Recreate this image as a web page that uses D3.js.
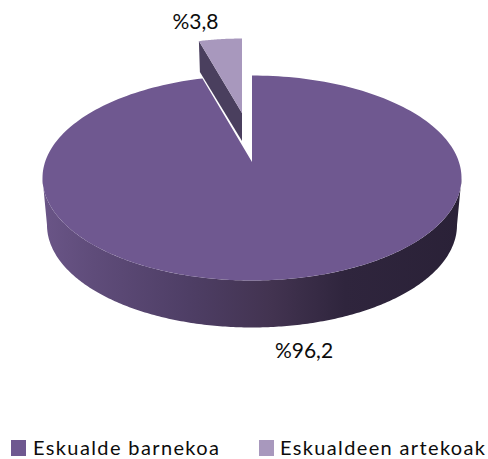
<!DOCTYPE html>
<html><head><meta charset="utf-8">
<script src="https://cdn.jsdelivr.net/npm/d3@7"></script>
<style>html,body{margin:0;padding:0;background:#fff}svg{display:block}text{font-family:Lato,sans-serif;fill:#0c0c0c}</style>
</head><body><svg width="488" height="459"></svg>
<script>
const categories = ["Eskualde barnekoa", "Eskualdeen artekoak"];
const values = [96.2, 3.8];
const valueLabels = ["%96,2", "%3,8"];
const colors = ["#6f5890", "#a898bd"];

const svg = d3.select("svg");
const slices = d3.pie().sort(null).value(d => d)(values);
const G = {cx:252, cy:178, rx:209.5, ry:102.5, ay:162, brx:205, bcy:225};
const W = {ox:242, oy:127.7, s:0.87, ax:242, ay:113, depth:28};
const pt = (a,cx=G.cx,cy=G.cy,rx=G.rx,ry=G.ry)=>[cx+rx*Math.sin(a), cy-ry*Math.cos(a)];
const line = d3.line();
const arcPts = (a0,a1,f,n=240)=>d3.range(n+1).map(i=>f(a0+(a1-a0)*i/n));

const defs = svg.append("defs");
const grad = defs.append("linearGradient").attr("id","side").attr("gradientUnits","userSpaceOnUse")
  .attr("x1",43).attr("x2",462).attr("y1",0).attr("y2",0);
[[0,"#6a5587"],[0.12,"#5f4c7a"],[0.35,"#4e3e65"],[0.55,"#423350"],[0.72,"#2f253d"],[1,"#2a2137"]]
  .forEach(([o,c])=>grad.append("stop").attr("offset",o).attr("stop-color",c));

// main slice: side wall
const main = slices[0], small = slices[1];
const bottom = a=>pt(a,G.cx,G.bcy,G.brx,G.ry);
const sidePts = [
  ...arcPts(Math.PI/2,3*Math.PI/2,a=>pt(a)),
  ...arcPts(3*Math.PI/2,Math.PI/2,bottom)
];
svg.append("path").attr("d",line(sidePts)+"Z").attr("fill","url(#side)");

// exploded slice
const wp = a=>pt(a,W.ox,W.oy,G.rx*W.s,G.ry*W.s);
const wa0 = small.startAngle, wa1 = small.endAngle;
const wl = wp(wa0);
svg.append("path").attr("d",line([wl,[W.ax,W.ay],[W.ax,W.ay+W.depth],[wl[0]+1,wl[1]+31]])+"Z").attr("fill","#4a3f5e");
svg.append("path").attr("d",line([[W.ax,W.ay],...arcPts(wa0,wa1,wp,30)])+"Z").attr("fill",colors[1]);

// main slice: top
svg.append("path").attr("d",line([[G.cx,G.ay],...arcPts(main.startAngle,main.endAngle,a=>pt(a))])+"Z").attr("fill",colors[0]);

// labels
const labelPos = [[304,358],[195.5,29]];
valueLabels.forEach((t,i)=>svg.append("text").attr("x",labelPos[i][0]).attr("y",labelPos[i][1])
  .attr("text-anchor","middle").attr("font-size",21).text(t));

// legend
const legendX = [11,259], textX=[33,280], textW=[186,205];
categories.forEach((c,i)=>{
  svg.append("rect").attr("x",legendX[i]).attr("y",440).attr("width",15).attr("height",16).attr("fill",colors[i]);
  svg.append("text").attr("x",textX[i]).attr("y",455).attr("font-size",20)
    .attr("textLength",textW[i]).text(c);
});
</script></body></html>
